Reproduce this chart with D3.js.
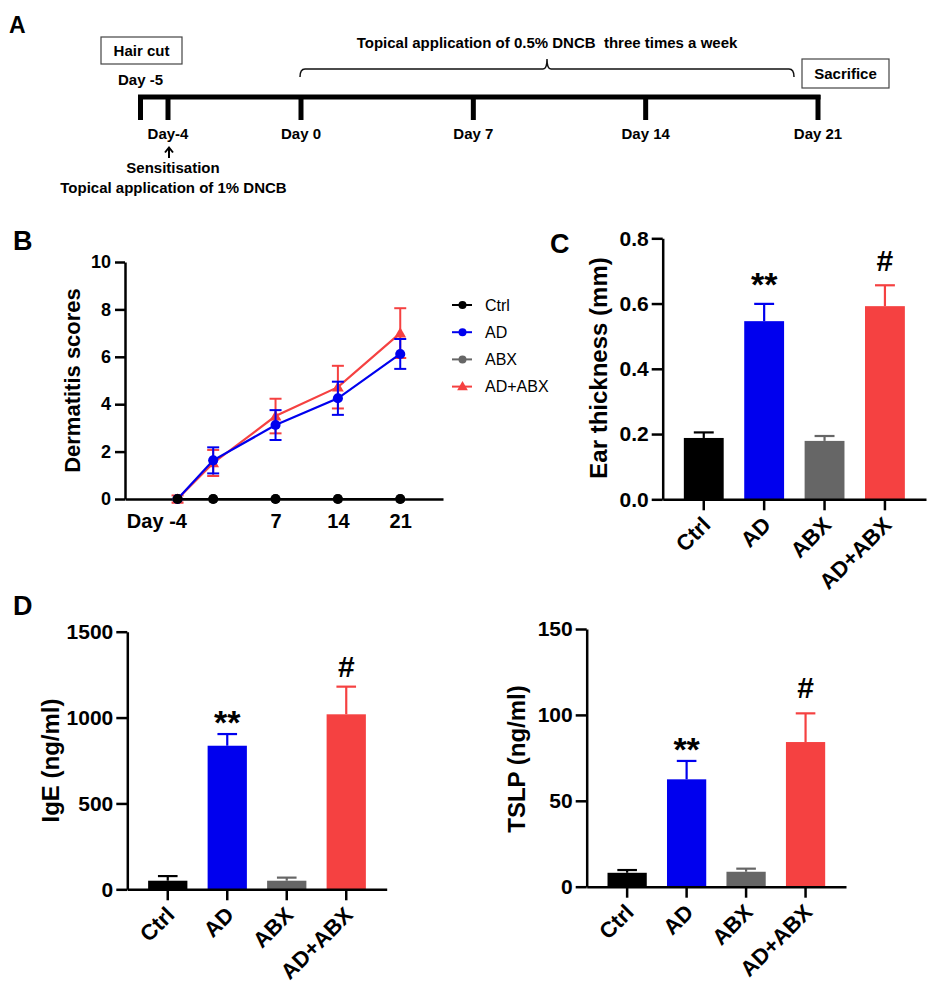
<!DOCTYPE html>
<html>
<head>
<meta charset="utf-8">
<script src="https://cdn.jsdelivr.net/npm/d3@7"></script>
<style>
  body { margin: 0; background: #fff; }
  svg { display: block; font-family: "Liberation Sans", Arial, sans-serif; }
</style>
</head>
<body>
<div class="canvas"></div>
<script>
/* A: timeline */
var timelineDays = [-5, -4, 0, 7, 14, 21];
var timelineLabels = ["Day -5", "Day-4", "Day 0", "Day 7", "Day 14", "Day 21"];

/* B: dermatitis scores */
var scoreDays = [-4, 0, 7, 14, 21];
var scoreTickDays = [-4, 7, 14, 21];
var scoreTicks = [0, 2, 4, 6, 8, 10];
var ctrlScores = [0, 0, 0, 0, 0];
var adScores = [0, 1.63, 3.12, 4.25, 6.12];
var adScoresErr = [0, 0.55, 0.63, 0.7, 0.63];
var abxScores = [0, 0, 0, 0, 0];
var adAbxScores = [0, 1.52, 3.5, 4.72, 7.0];
var adAbxScoresErr = [0.15, 0.55, 0.73, 0.9, 1.05];

/* groups shared by all panels */
var groups = ["Ctrl", "AD", "ABX", "AD+ABX"];
var groupColors = ["#000000", "#0000ee", "#666666", "#f54141"];
var marks = ["", "**", "", "#"];

/* C: ear thickness */
var earMean = [0.188, 0.546, 0.179, 0.592];
var earErr = [0.017, 0.053, 0.015, 0.064];
var earTicks = [0, 0.2, 0.4, 0.6, 0.8];

/* D: IgE and TSLP */
var igeMean = [50, 836, 50, 1019];
var igeErr = [27, 68, 18, 161];
var igeTicks = [0, 500, 1000, 1500];
var tslpMean = [8.1, 62.5, 8.7, 84.2];
var tslpErr = [1.6, 10.7, 1.8, 16.7];
var tslpTicks = [0, 50, 100, 150];

var width = 935;
var height = 999;

var svg = d3
  .select(".canvas")
  .append("svg")
  .attr("width", width)
  .attr("height", height);

svg.append("rect").attr("width", width).attr("height", height).attr("fill", "#fff");

function styleAxis(g, fontSize) {
  g.attr("font-family", null).attr("font-size", null);
  g.selectAll(".domain").attr("stroke", "#000").attr("stroke-width", 2.5);
  g.selectAll(".tick line").attr("stroke", "#000").attr("stroke-width", 2.5);
  g.selectAll(".tick text")
    .attr("fill", "#000")
    .style("font-size", fontSize + "px")
    .style("font-weight", "bold");
}

function panelLetter(txt, x, y, size) {
  svg
    .append("text")
    .attr("x", x)
    .attr("y", y)
    .style("font-size", size + "px")
    .style("font-weight", "bold")
    .text(txt);
}

/* ---------- Panel A ---------- */
panelLetter("A", 9, 33, 23);

var tlX = d3.scaleLinear().domain([-5, -4, 0, 21]).range([140.5, 168, 301, 818]);
var tlY = 97;
var a = svg.append("g").style("font-weight", "bold").style("font-size", "15px");

a.append("line")
  .attr("x1", tlX(-5) - 2.5)
  .attr("x2", tlX(21) + 2.5)
  .attr("y1", tlY)
  .attr("y2", tlY)
  .attr("stroke", "#000")
  .attr("stroke-width", 5);

a.selectAll(".tl-tick")
  .data(timelineDays)
  .enter()
  .append("line")
  .attr("class", "tl-tick")
  .attr("x1", (d) => tlX(d))
  .attr("x2", (d) => tlX(d))
  .attr("y1", tlY - 2)
  .attr("y2", tlY + 23)
  .attr("stroke", "#000")
  .attr("stroke-width", 5);

a.selectAll(".tl-label")
  .data(timelineDays)
  .enter()
  .append("text")
  .attr("class", "tl-label")
  .attr("text-anchor", "middle")
  .attr("x", (d) => tlX(d))
  .attr("y", (d) => (d === -5 ? 85 : 139))
  .text((d, i) => timelineLabels[i]);

/* boxes */
a.append("rect").attr("x", 101).attr("y", 37).attr("width", 81).attr("height", 27)
  .attr("fill", "none").attr("stroke", "#444").attr("stroke-width", 1.2);
a.append("text").attr("x", 141.5).attr("y", 56).attr("text-anchor", "middle").text("Hair cut");
a.append("rect").attr("x", 802).attr("y", 59).attr("width", 87).attr("height", 29)
  .attr("fill", "none").attr("stroke", "#444").attr("stroke-width", 1.2);
a.append("text").attr("x", 845.5).attr("y", 78.5).attr("text-anchor", "middle").text("Sacrifice");

/* bracket over Day 0 .. Day 21 */
var bx0 = tlX(0) - 1;
var bx1 = tlX(21) - 24;
var bmid = (bx0 + bx1) / 2;
a.append("path")
  .attr("d",
    `M${bx0},77 Q${bx0},69 ${bx0 + 5},69 H${bmid - 4} Q${bmid},69 ${bmid},59 ` +
    `Q${bmid},69 ${bmid + 4},69 H${bx1 - 5} Q${bx1},69 ${bx1},77`)
  .attr("fill", "none")
  .attr("stroke", "#111")
  .attr("stroke-width", 1.5);
a.append("text").attr("x", bmid).attr("y", 48).attr("text-anchor", "middle")
  .text("Topical application of 0.5% DNCB\u00a0 three times a week");

/* arrow under Day-4 */
var ax = tlX(-4) + 1;
a.append("path")
  .attr("d", `M${ax},158 V148 M${ax - 4},152.5 L${ax},147.5 L${ax + 4},152.5`)
  .attr("fill", "none")
  .attr("stroke", "#000")
  .attr("stroke-width", 2);
a.append("text").attr("x", 173).attr("y", 173).attr("text-anchor", "middle").text("Sensitisation");
a.append("text").attr("x", 173.5).attr("y", 192.5).attr("text-anchor", "middle")
  .text("Topical application of 1% DNCB");

/* ---------- Panel B ---------- */
panelLetter("B", 13, 250, 27);

var xB = d3.scaleLinear().domain([-9.9, 25.8]).range([125, 443]);
var yB = d3.scaleLinear().domain([0, 10]).range([499, 262]);
var b = svg.append("g");

var yAxisB = d3.axisLeft(yB).tickValues(scoreTicks).tickSize(10).tickSizeOuter(0).tickPadding(4)
  .tickFormat((d) => String(d));
b.append("g").attr("transform", `translate(${xB.range()[0]},0)`).call(yAxisB).call((g) => styleAxis(g, 18));

var xAxisB = d3.axisBottom(xB).tickValues(scoreTickDays).tickSize(4).tickSizeOuter(0).tickPadding(11)
  .tickFormat((d) => String(d));
b.append("g").attr("transform", `translate(0,${yB(0)})`).call(xAxisB).call((g) => styleAxis(g, 20));

b.append("text")
  .attr("x", xB(-4) - 14)
  .attr("y", yB(0) + 29)
  .attr("text-anchor", "end")
  .style("font-size", "20px")
  .style("font-weight", "bold")
  .text("Day");

b.append("text")
  .attr("transform", "translate(80,380.5) rotate(-90)")
  .attr("text-anchor", "middle")
  .style("font-size", "22px")
  .style("font-weight", "bold")
  .text("Dermatitis scores");

var scoreSeries = [
  { name: "ABX", values: abxScores, err: null, color: groupColors[2], shape: d3.symbolCircle },
  { name: "AD+ABX", values: adAbxScores, err: adAbxScoresErr, color: groupColors[3], shape: d3.symbolTriangle },
  { name: "AD", values: adScores, err: adScoresErr, color: groupColors[1], shape: d3.symbolCircle },
  { name: "Ctrl", values: ctrlScores, err: null, color: groupColors[0], shape: d3.symbolCircle },
];

var lineB = d3
  .line()
  .x((d) => xB(d.day))
  .y((d) => yB(d.v));

scoreSeries.forEach(function (s) {
  var pts = scoreDays.map((day, i) => ({ day: day, v: s.values[i], e: s.err ? s.err[i] : 0 }));
  var sg = b.append("g").attr("class", "series");
  sg.append("path")
    .attr("d", lineB(pts))
    .attr("fill", "none")
    .attr("stroke", s.color)
    .attr("stroke-width", 2.2);
  if (s.err) {
    var eg = sg.selectAll(".eb").data(pts.filter((p) => p.e > 0)).enter().append("g")
      .attr("stroke", s.color).attr("stroke-width", 2);
    eg.append("line")
      .attr("x1", (p) => xB(p.day)).attr("x2", (p) => xB(p.day))
      .attr("y1", (p) => yB(p.v - p.e)).attr("y2", (p) => yB(p.v + p.e));
    eg.append("line")
      .attr("x1", (p) => xB(p.day) - 6).attr("x2", (p) => xB(p.day) + 6)
      .attr("y1", (p) => yB(p.v + p.e)).attr("y2", (p) => yB(p.v + p.e));
    eg.append("line")
      .attr("x1", (p) => xB(p.day) - 6).attr("x2", (p) => xB(p.day) + 6)
      .attr("y1", (p) => yB(p.v - p.e)).attr("y2", (p) => yB(p.v - p.e));
  }
  sg.selectAll(".pt").data(pts).enter().append("path")
    .attr("transform", (p) => `translate(${xB(p.day)},${yB(p.v) + (s.shape === d3.symbolTriangle ? 1 : 0)})`)
    .attr("d", d3.symbol().type(s.shape).size(s.shape === d3.symbolTriangle ? 60 : 80))
    .attr("fill", s.color);
});

/* legend */
var legB = b.append("g").attr("transform", "translate(452,305)");
var legItems = legB.selectAll(".leg").data(groups).enter().append("g")
  .attr("transform", (d, i) => `translate(0,${i * 27.2})`);
legItems.append("line").attr("x1", 0).attr("x2", 20).attr("y1", 0).attr("y2", 0)
  .attr("stroke", (d, i) => groupColors[i]).attr("stroke-width", 2);
legItems.append("path")
  .attr("transform", (d, i) => `translate(10.5,${i === 3 ? 0.5 : 0})`)
  .attr("d", (d, i) => d3.symbol().type(i === 3 ? d3.symbolTriangle : d3.symbolCircle).size(i === 3 ? 50 : 50)())
  .attr("fill", (d, i) => groupColors[i]);
legItems.append("text").attr("x", 33).attr("y", 5.5).style("font-size", "16px").text((d) => d);

/* ---------- bar panels ---------- */
function barPanel(cfg) {
  var y = d3.scaleLinear().domain([0, cfg.max]).range([cfg.bottom, cfg.top]);
  var x = d3.scaleBand().domain(groups).range([cfg.left, cfg.right]).paddingInner(0.34).paddingOuter(0.35);
  var g = svg.append("g");
  var rows = groups.map((name, i) => ({ name: name, m: cfg.mean[i], e: cfg.err[i], color: groupColors[i], mark: marks[i] }));

  g.selectAll(".bar").data(rows).enter().append("rect")
    .attr("x", (d) => x(d.name))
    .attr("width", x.bandwidth())
    .attr("y", (d) => y(d.m))
    .attr("height", (d) => y(0) - y(d.m))
    .attr("fill", (d) => d.color);

  var cx = (d) => x(d.name) + x.bandwidth() / 2;
  var eg = g.selectAll(".err").data(rows).enter().append("g")
    .attr("stroke", (d) => d.color).attr("stroke-width", 2.2);
  eg.append("line").attr("x1", cx).attr("x2", cx)
    .attr("y1", (d) => y(d.m)).attr("y2", (d) => y(d.m + d.e));
  eg.append("line")
    .attr("x1", (d) => cx(d) - x.bandwidth() / 4).attr("x2", (d) => cx(d) + x.bandwidth() / 4)
    .attr("y1", (d) => y(d.m + d.e)).attr("y2", (d) => y(d.m + d.e));

  g.selectAll(".mark").data(rows.filter((d) => d.mark)).enter().append("text")
    .attr("x", cx)
    .attr("y", (d) => y(d.m + d.e) - (d.mark === "#" ? cfg.hashGap : cfg.starGap))
    .attr("text-anchor", "middle")
    .style("font-weight", "bold")
    .style("font-size", (d) => (d.mark === "#" ? "30px" : "34px"))
    .text((d) => d.mark);

  var yAxis = d3.axisLeft(y).tickValues(cfg.ticks).tickSize(11).tickSizeOuter(0).tickPadding(3)
    .tickFormat(cfg.format);
  g.append("g").attr("transform", `translate(${cfg.left},0)`).call(yAxis).call((a) => styleAxis(a, 21));

  var xAxis = d3.axisBottom(x).tickSize(11).tickSizeOuter(0);
  var xg = g.append("g").attr("transform", `translate(0,${cfg.bottom})`).call(xAxis).call((a) => styleAxis(a, 22));
  xg.selectAll(".tick text")
    .attr("x", null).attr("y", null).attr("dy", null)
    .attr("text-anchor", "end")
    .attr("transform", "translate(8,27) rotate(-45)");

  g.append("text")
    .attr("transform", `translate(${cfg.labelX},${cfg.labelY}) rotate(-90)`)
    .attr("text-anchor", "middle")
    .style("font-size", "24px")
    .style("font-weight", "bold")
    .text(cfg.label);
}

/* C */
panelLetter("C", 550, 253, 27);
barPanel({
  mean: earMean, err: earErr, ticks: earTicks, max: 0.8, format: d3.format(".1f"),
  left: 662.7, right: 926, top: 238.3, bottom: 499.3,
  label: "Ear thickness (mm)", labelX: 607, labelY: 368, starGap: 8, hashGap: 14,
});

/* D */
panelLetter("D", 13, 615, 27);
barPanel({
  mean: igeMean, err: igeErr, ticks: igeTicks, max: 1500, format: (d) => String(d),
  left: 127.3, right: 386.7, top: 631.7, bottom: 889.3,
  label: "IgE (ng/ml)", labelX: 59, labelY: 760.5, starGap: 0, hashGap: 10,
});
barPanel({
  mean: tslpMean, err: tslpErr, ticks: tslpTicks, max: 150, format: (d) => String(d),
  left: 586.7, right: 846, top: 629, bottom: 886.7,
  label: "TSLP (ng/ml)", labelX: 525, labelY: 759, starGap: 0, hashGap: 15,
});
</script>
</body>
</html>
